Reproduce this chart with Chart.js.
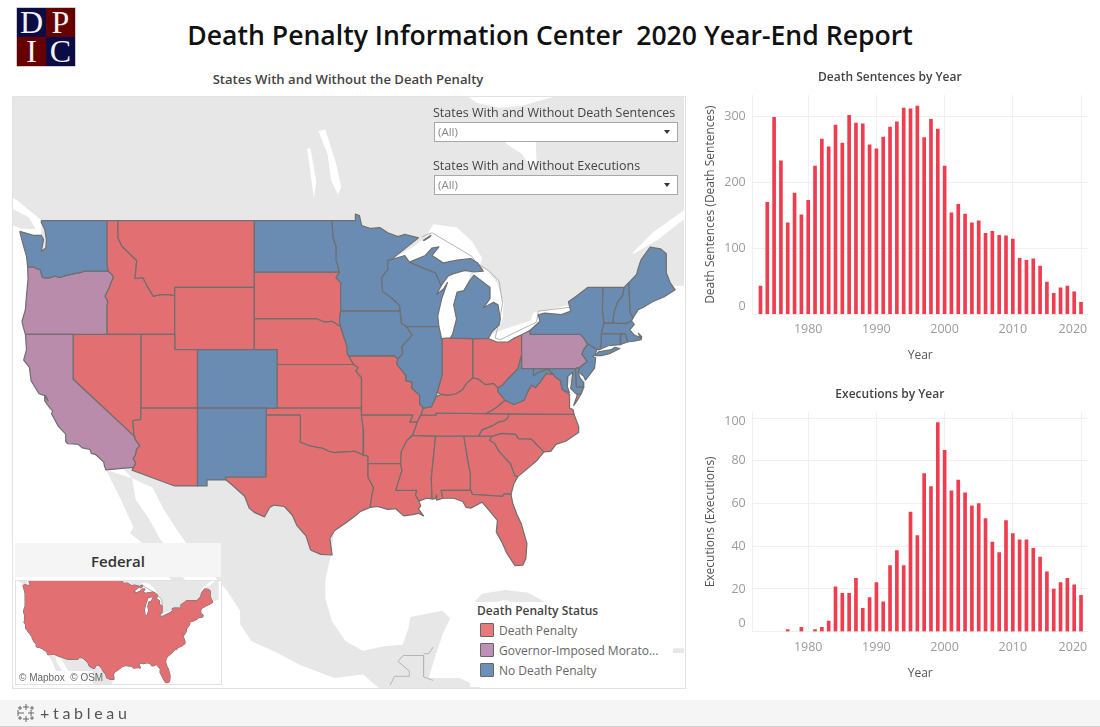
<!DOCTYPE html>
<html><head><meta charset="utf-8">
<script src="https://cdn.jsdelivr.net/npm/chart.js@4"></script>
<style>
html,body{margin:0;padding:0;background:#fff;width:1100px;height:727px;overflow:hidden;font-family:"Open Sans",sans-serif}
.a{position:absolute}
canvas{position:absolute;display:block}
.lbl{position:absolute;white-space:nowrap}
.box{position:absolute;background:#fff;border:1px solid #a8a8a8;box-sizing:border-box;color:#888;font-size:11.5px;line-height:17px;padding-left:3px}
.box i{position:absolute;right:7px;top:7px;width:0;height:0;border-left:3.5px solid transparent;border-right:3.5px solid transparent;border-top:4px solid #333}
.sw{position:absolute;left:480px;width:14px;height:14px;box-sizing:border-box;border:1px solid #666;border-radius:1px}
</style></head><body>
<div class="a" style="left:17px;top:8px;width:58px;height:58px;display:grid;grid-template-columns:1fr 1fr;grid-template-rows:1fr 1fr;font-family:'Liberation Serif',serif;color:#f2f2f2;font-size:32px;line-height:29px;text-align:center;box-shadow:0 0 0 .5px #999">
<div style="background:#0b0b45">D</div><div style="background:#660000">P</div><div style="background:#660000">I</div><div style="background:#0b0b45">C</div></div>
<div class="lbl" id="mainTitle" style="left:0;width:1100px;text-align:center;top:17px;font-size:26.6px;font-weight:600;color:#111;line-height:36px">Death Penalty Information Center&nbsp; 2020 Year-End Report</div>
<div class="lbl" style="left:148px;width:400px;text-align:center;top:71px;font-size:13.1px;font-weight:600;color:#444;line-height:17px">States With and Without the Death Penalty</div>
<div class="a" style="left:12px;top:96px;width:672px;height:591px;border:1px solid #e2e2e2;box-sizing:content-box"></div>
<canvas id="mapChart" width="671" height="591" style="left:13px;top:97px;width:671px;height:591px"></canvas>

<div class="lbl" style="left:433px;top:104px;font-size:12.5px;color:#444;line-height:17px">States With and Without Death Sentences</div>
<div class="box" style="left:434px;top:122px;width:244px;height:20px">(All)<i></i></div>
<div class="lbl" style="left:433px;top:157px;font-size:12.5px;color:#444;line-height:17px">States With and Without Executions</div>
<div class="box" style="left:434px;top:175px;width:244px;height:20px">(All)<i></i></div>

<div class="a" style="left:470px;top:602px;width:195px;height:85px;background:#fff"></div>
<div class="lbl" style="left:477px;top:602px;font-size:12px;font-weight:600;color:#444;line-height:17px">Death Penalty Status</div>
<div class="sw" style="top:623px;background:#e87a7d"></div>
<div class="lbl" style="left:499px;top:622px;font-size:12px;color:#666;line-height:17px">Death Penalty</div>
<div class="sw" style="top:643px;background:#be91b4"></div>
<div class="lbl" style="left:499px;top:642px;font-size:12px;color:#666;line-height:17px">Governor-Imposed Morato...</div>
<div class="sw" style="top:663px;background:#6b91b9"></div>
<div class="lbl" style="left:499px;top:662px;font-size:12px;color:#666;line-height:17px">No Death Penalty</div>

<div class="a" style="left:15px;top:543px;width:206px;height:34px;background:#f5f5f5;text-align:center;font-size:15px;font-weight:600;color:#333;line-height:36px">Federal</div>
<div class="a" style="left:15px;top:580px;width:207px;height:105px;border:1px solid #e2e2e2;box-sizing:border-box;background:#fff"></div>
<canvas id="insetChart" width="205" height="103" style="left:16px;top:581px;width:205px;height:103px"></canvas>
<div class="lbl" style="left:16px;top:671px;height:13px;width:74px;padding-left:3px;background:rgba(255,255,255,.85);font-size:10px;line-height:13px;color:#666;font-family:'Liberation Sans',sans-serif">© Mapbox&nbsp; © OSM</div>

<canvas id="sentencesChart" width="398" height="300" style="left:692px;top:65px;width:398px;height:300px"></canvas>
<canvas id="executionsChart" width="398" height="300" style="left:692px;top:383px;width:398px;height:300px"></canvas>

<div class="a" style="left:0;top:700px;width:1100px;height:26px;background:#f5f5f5;border-bottom:1px solid #d0d0d0"></div>
<svg class="a" style="left:16px;top:703px" width="20" height="20" stroke="#666" stroke-width="1" fill="none"><path d="M10 1v6M7 4h6M10 13v6M7 16h6M2 10h6M2 7v6M12 10h6M15 7v6M4 3v4M2 5h4M16 3v4M14 5h4M4 13v4M2 15h4M16 13v4M14 15h4"/></svg>
<div class="lbl" style="left:40px;top:702px;font-size:16px;line-height:22px;color:#555;letter-spacing:3.7px;font-family:Lato,sans-serif">+tableau</div>

<script>
// ---------- bar chart data ----------
const years = [1973,1974,1975,1976,1977,1978,1979,1980,1981,1982,1983,1984,1985,1986,1987,1988,1989,1990,1991,1992,1993,1994,1995,1996,1997,1998,1999,2000,2001,2002,2003,2004,2005,2006,2007,2008,2009,2010,2011,2012,2013,2014,2015,2016,2017,2018,2019,2020];
const deathSentences = [43,170,299,233,139,184,151,173,225,266,254,287,260,302,290,289,257,251,269,284,292,313,312,316,268,296,281,225,154,167,152,139,142,123,126,120,119,114,85,82,84,73,49,32,40,43,34,18];
const executions = [null,null,null,null,1,null,2,null,1,2,5,21,18,18,25,11,16,23,14,31,38,31,56,45,74,68,98,85,66,71,65,59,60,53,42,37,52,46,43,43,39,35,28,20,23,25,22,17];

// ---------- geography: [lon,lat, lon,lat, ...] ----------
const WA=[[-124.7,48.38,-124.4,47.6,-124.1,46.9,-124,46.25,-123.5,46.27,-123.2,46.15,-122.9,46.1,-122.8,45.85,-122.7,45.62,-122.2,45.57,-121.6,45.7,-121.15,45.61,-120.6,45.74,-119.9,45.85,-119.3,45.93,-119,46,-116.92,46,-117.03,46.4,-117.03,49,-122.75,49,-122.8,48.9,-122.5,48.5,-122.35,47.9,-122.4,47.4,-122.8,47.2,-122.6,47.9,-122.8,48.15,-123.5,48.15]];
const OR=[[-124,46.25,-123.5,46.27,-123.2,46.15,-122.9,46.1,-122.8,45.85,-122.7,45.62,-122.2,45.57,-121.6,45.7,-121.15,45.61,-120.6,45.74,-119.9,45.85,-119.3,45.93,-119,46,-116.92,46,-116.55,45.75,-116.46,45.6,-116.67,45.3,-116.85,44.95,-117.2,44.45,-117.03,44.23,-116.95,44.1,-117.03,43.8,-117.03,42,-124.2,42,-124.4,42.5,-124.5,42.85,-124.2,43.6,-124.1,44.5,-123.97,45.5]];
const CA=[[-124.2,42,-120,42,-120,39,-114.63,35,-114.57,34.8,-114.14,34.3,-114.43,34.05,-114.52,33.6,-114.72,33.4,-114.5,33,-114.72,32.72,-117.12,32.53,-117.25,32.85,-117.3,33.1,-118,33.65,-118.4,33.75,-118.5,34.03,-119.2,34.15,-119.6,34.42,-120.47,34.45,-120.65,34.6,-120.65,35.15,-121.3,35.7,-121.9,36.6,-121.8,36.8,-122,36.96,-122.5,37.5,-122.5,37.8,-122.2,37.5,-122.4,37.85,-123,38,-123.7,38.9,-123.85,39.8,-124.35,40.3,-124.1,41]];
const NV=[[-120,42,-114.04,42,-114.04,36.2,-114.75,36.1,-114.63,35,-120,39]];
const ID=[[-117.03,49,-116.05,49,-116.05,48,-115.7,47.5,-114.4,46.65,-114.55,45.55,-113.85,45.6,-113.45,45.05,-112.95,44.45,-112.3,44.55,-111.5,44.55,-111.05,44.47,-111.05,42,-117.03,42,-117.03,43.8,-116.95,44.1,-117.03,44.23,-117.2,44.45,-116.85,44.95,-116.67,45.3,-116.46,45.6,-116.55,45.75,-116.92,46,-117.03,46.4]];
const MT=[[-116.05,49,-104.05,49,-104.05,45,-111.05,45,-111.05,44.47,-111.5,44.55,-112.3,44.55,-112.95,44.45,-113.45,45.05,-113.85,45.6,-114.55,45.55,-114.4,46.65,-115.7,47.5,-116.05,48]];
const WY=[[-111.05,45,-104.05,45,-104.05,41,-111.05,41]];
const UT=[[-114.04,42,-111.05,42,-111.05,41,-109.05,41,-109.05,37,-114.04,37]];
const CO=[[-109.05,41,-102.05,41,-102.05,37,-109.05,37]];
const AZ=[[-114.04,37,-109.05,37,-109.05,31.33,-111.07,31.33,-114.81,32.5,-114.72,32.72,-114.5,33,-114.72,33.4,-114.52,33.6,-114.43,34.05,-114.14,34.3,-114.57,34.8,-114.63,35,-114.75,36.1,-114.04,36.2]];
const NM=[[-109.05,37,-103,37,-103.04,32,-106.62,32,-106.53,31.78,-108.21,31.78,-108.21,31.33,-109.05,31.33]];
const ND=[[-104.05,49,-97.23,49,-97.1,48,-96.85,47.5,-96.8,46.6,-96.56,45.94,-104.05,45.94]];
const SD=[[-104.05,45.94,-96.56,45.94,-96.85,45.6,-96.45,45.3,-96.45,43.5,-96.55,43,-96.45,42.5,-97.2,42.85,-97.9,42.8,-98.5,43,-104.05,43]];
const NE=[[-104.05,43,-98.5,43,-97.9,42.8,-97.2,42.85,-96.45,42.5,-96.1,41.7,-95.9,41.2,-95.85,40.7,-95.75,40.58,-95.3,40,-102.05,40,-102.05,41,-104.05,41]];
const KS=[[-102.05,40,-95.3,40,-94.9,39.8,-95.1,39.55,-94.6,39.1,-94.62,37,-102.05,37]];
const OK=[[-103,37,-94.62,37,-94.62,36.5,-94.43,35.4,-94.48,33.64,-95.2,33.9,-96,33.85,-97,33.8,-97.5,33.9,-98.1,34.13,-99.2,34.3,-100,34.56,-100,36.5,-103,36.5]];
const TX=[[-103,36.5,-100,36.5,-100,34.56,-99.2,34.3,-98.1,34.13,-97.5,33.9,-97,33.8,-96,33.85,-95.2,33.9,-94.48,33.64,-94.04,33.55,-94.04,33,-94.04,32,-93.55,31.2,-93.7,30.6,-93.85,29.7,-94.7,29.4,-95.1,29.1,-96,28.5,-97,27.9,-97.4,27.3,-97.2,26,-98.2,26.05,-99.1,26.4,-99.5,27.5,-100.3,28.3,-100.7,29.1,-101.4,29.77,-102.3,29.88,-102.7,29.7,-103.15,28.98,-104,29.3,-104.5,29.65,-104.9,30.55,-106,31.4,-106.53,31.78,-106.62,32,-103.04,32]];
const MN=[[-97.23,49,-95.15,49,-95.15,49.38,-94.8,49.3,-94.6,48.72,-93.8,48.55,-93,48.6,-92.3,48.3,-91.4,48.07,-90.8,48.2,-89.6,48,-90.9,47.3,-92,46.7,-92.3,46.65,-92.3,46.1,-92.85,45.6,-92.75,44.75,-91.9,44.3,-91.25,43.85,-91.22,43.5,-96.45,43.5,-96.45,45.3,-96.85,45.6,-96.56,45.94,-96.8,46.6,-96.85,47.5,-97.1,48]];
const IA=[[-96.45,43.5,-91.22,43.5,-91.1,42.7,-90.65,42.5,-90.15,41.95,-91.05,41.2,-91,40.7,-91.42,40.38,-91.75,40.6,-95.75,40.58,-95.85,40.7,-95.9,41.2,-96.1,41.7,-96.45,42.5,-96.55,43]];
const MO=[[-95.75,40.58,-91.75,40.6,-91.42,40.38,-91.5,40,-90.75,39.3,-90.7,38.9,-90.15,38.8,-90.2,38.4,-89.5,37.9,-89.5,37.3,-89.15,37,-89.4,36.5,-89.7,36,-90.37,36,-90.1,36.5,-94.62,36.5,-94.62,37,-94.6,39.1,-95.1,39.55,-94.9,39.8,-95.3,40]];
const AR=[[-94.62,36.5,-90.1,36.5,-90.37,36,-89.7,36,-90.1,35.1,-90.6,34.7,-91.1,33.9,-91.17,33,-94.04,33,-94.04,33.55,-94.48,33.64,-94.43,35.4]];
const LA=[[-94.04,33,-91.17,33,-91.05,32.5,-91.6,31,-89.75,31,-89.85,30.65,-89.55,30.18,-89.4,29.8,-89.6,29.6,-89.15,29.05,-89.6,29.25,-90.1,29.15,-90.9,29.05,-91.6,29.6,-92.3,29.55,-93.2,29.77,-93.85,29.7,-93.7,30.6,-93.55,31.2,-94.04,32]];
const MS=[[-90.1,35.05,-88.2,35,-88.1,34.9,-88.47,31.9,-88.4,30.35,-88.9,30.4,-89.55,30.18,-89.85,30.65,-89.75,31,-91.6,31,-91.05,32.5,-91.17,33,-91.1,33.9,-90.6,34.7]];
const AL=[[-88.2,35,-85.6,35,-85.18,32.87,-85,32.3,-85.05,31.55,-85,31,-87.6,31,-87.45,30.4,-88,30.25,-88,30.65,-88.15,30.35,-88.4,30.35,-88.47,31.9,-88.1,34.9]];
const GA=[[-85.6,35,-83.1,35,-83.35,34.7,-82.9,34.48,-82.55,33.95,-81.9,33.35,-81.5,33,-81.1,32.1,-80.85,32.03,-81.2,31.5,-81.45,30.7,-82.05,30.75,-82.2,30.55,-84.86,30.7,-85,31,-85.05,31.55,-85,32.3,-85.18,32.87]];
const FL=[[-87.6,31,-85,31,-84.86,30.7,-82.2,30.55,-82.05,30.75,-81.45,30.7,-81.3,30,-80.95,29.2,-80.55,28.45,-80.05,26.9,-80.15,25.7,-80.4,25.2,-81.1,25.15,-81.8,26.1,-82.2,26.9,-82.75,27.8,-82.65,28.7,-83.4,29.5,-84,30.1,-85,29.65,-85.4,29.7,-85.7,30.15,-86.5,30.4,-87.45,30.4]];
const SC=[[-83.1,35,-82.3,35.2,-81.05,35.15,-80.8,34.82,-79.67,34.8,-78.55,33.86,-79.2,33.2,-79.9,32.7,-80.85,32.03,-81.1,32.1,-81.5,33,-81.9,33.35,-82.55,33.95,-82.9,34.48,-83.35,34.7]];
const NC=[[-84.32,35,-83.1,35,-82.3,35.2,-81.05,35.15,-80.8,34.82,-79.67,34.8,-78.55,33.86,-77.95,33.9,-77.5,34.4,-76.6,34.65,-75.55,35.25,-75.5,35.7,-75.9,36.55,-81.68,36.59,-81.7,36.35,-82,36.12,-82.6,36,-83.1,35.75,-84,35.45]];
const TN=[[-90.1,35.05,-88.2,35,-85.6,35,-84.32,35,-84,35.45,-83.1,35.75,-82.6,36,-82,36.12,-81.7,36.35,-81.68,36.59,-83.67,36.6,-88.07,36.65,-88.05,36.5,-89.4,36.5,-89.7,36]];
const KY=[[-89.4,36.5,-88.05,36.5,-88.07,36.65,-83.67,36.6,-83.1,36.85,-82.7,37.05,-81.97,37.54,-82.6,38.17,-82.6,38.4,-83,38.72,-83.7,38.63,-84.3,39,-84.82,39.1,-85.4,38.7,-85.7,38.3,-86.3,38,-87,37.9,-87.6,37.95,-88.05,37.8,-88.45,37.1,-89.15,37]];
const VA=[[-83.67,36.6,-81.68,36.59,-75.9,36.55,-76,36.9,-76.3,37,-76.3,37.6,-76.3,37.95,-76.95,38.3,-77.05,38.7,-77.05,38.9,-77.5,39.1,-77.72,39.32,-78.35,39.4,-78.9,38.8,-79.3,38.42,-79.65,38.6,-79.95,38.2,-80.3,37.55,-81.2,37.25,-81.97,37.54,-82.7,37.05,-83.1,36.85],[-75.95,37.15,-75.6,37.95,-75.25,38.03,-75.65,37.5]];
const WV=[[-81.97,37.54,-81.2,37.25,-80.3,37.55,-79.95,38.2,-79.65,38.6,-79.3,38.42,-78.9,38.8,-78.35,39.4,-77.72,39.32,-78.2,39.68,-79.05,39.47,-79.48,39.21,-79.48,39.72,-80.52,39.72,-80.52,40.64,-80.85,39.7,-81.75,39,-82.2,38.6,-82.6,38.4,-82.6,38.17]];
const OH=[[-84.8,41.72,-83.45,41.73,-82.7,41.5,-81.7,41.5,-81.2,41.75,-80.52,41.98,-80.52,40.64,-80.85,39.7,-81.75,39,-82.2,38.6,-82.6,38.4,-83,38.72,-83.7,38.63,-84.3,39,-84.82,39.1]];
const IN=[[-87.53,41.72,-87.2,41.75,-86.8,41.76,-84.8,41.72,-84.82,39.1,-85.4,38.7,-85.7,38.3,-86.3,38,-87,37.9,-87.6,37.95,-87.95,38.1,-87.5,39.35]];
const IL=[[-87.8,42.5,-90.65,42.5,-90.15,41.95,-91.05,41.2,-91,40.7,-91.42,40.38,-91.5,40,-90.75,39.3,-90.7,38.9,-90.15,38.8,-90.2,38.4,-89.5,37.9,-89.5,37.3,-89.15,37,-88.45,37.1,-88.05,37.8,-87.95,38.1,-87.5,39.35,-87.53,41.72,-87.6,41.85]];
const WI=[[-92,46.7,-90.8,46.95,-90.4,46.55,-89,46.15,-88.1,45.9,-87.6,45.1,-88,44.55,-87.4,44.9,-87.05,45.3,-87.55,44.3,-87.9,43.2,-87.8,42.5,-90.65,42.5,-91.1,42.7,-91.22,43.5,-91.25,43.85,-91.9,44.3,-92.75,44.75,-92.85,45.6,-92.3,46.1,-92.3,46.65]];
const MI=[[-90.4,46.55,-89,46.95,-88.4,47.4,-87.8,47.47,-88.4,46.95,-87.4,46.5,-86.2,46.67,-85,46.77,-84.4,46.5,-84.1,46.2,-83.9,46,-84.7,45.95,-85.5,46.05,-86.5,45.85,-87,45.7,-87.6,45.1,-88.1,45.9,-89,46.15],[-86.8,41.76,-84.8,41.72,-83.45,41.73,-83.1,42.2,-82.5,42.6,-82.4,43,-82.6,43.9,-83,44.07,-83.9,43.7,-83.3,44.3,-83.3,45,-84.7,45.75,-85.1,45.4,-85.6,44.8,-86.2,44.7,-86.5,43.9,-86.25,43,-86.6,42],[-89.2,47.85,-88.5,48.15,-88.6,48.05,-89.1,47.85]];
const NY=[[-79.76,42.27,-79.76,42,-75.35,42,-75.05,41.75,-74.7,41.36,-73.9,41,-73.65,41,-73.5,41.3,-73.5,42.05,-73.27,42.75,-73.4,43.6,-73.35,45,-74.7,45,-75.8,44.4,-76.4,44.1,-76.2,43.5,-77,43.28,-78.5,43.37,-79.05,43.27,-78.9,42.85],[-74.05,40.6,-73.75,40.85,-72.6,41,-72.3,41.15,-71.87,41.07,-72.7,40.75,-73.5,40.6]];
const NJ=[[-74.7,41.36,-73.9,41,-74.05,40.65,-74.25,40.5,-74,40.45,-74.1,39.75,-74.9,38.93,-75.05,39.2,-75.55,39.5,-75.4,39.8,-74.75,40.2,-75.2,40.7,-75.05,41]];
const PA=[[-80.52,41.98,-79.76,42.27,-79.76,42,-75.35,42,-75.05,41.75,-74.7,41.36,-75.05,41,-75.2,40.7,-74.75,40.2,-75.4,39.8,-75.79,39.72,-80.52,39.72]];
const MD=[[-79.48,39.72,-75.79,39.72,-75.7,38.46,-75.05,38.45,-75.25,38.03,-75.65,37.95,-76.2,38.35,-76,39.5,-76.45,39.2,-76.5,38.5,-76.3,38.05,-76.95,38.3,-77.05,38.7,-77.05,38.9,-77.5,39.1,-77.72,39.32,-78.2,39.68,-79.05,39.47,-79.48,39.21]];
const DE=[[-75.79,39.72,-75.4,39.8,-75.55,39.5,-75.4,39.1,-75.1,38.8,-75.05,38.45,-75.7,38.46]];
const CT=[[-73.5,42.05,-71.8,42.02,-71.85,41.32,-72.9,41.25,-73.65,41,-73.5,41.3]];
const RI=[[-71.8,42.02,-71.38,42.02,-71.2,41.5,-71.85,41.32]];
const MA=[[-73.5,42.05,-73.27,42.75,-71.3,42.7,-70.85,42.87,-70.6,42.65,-71,42.3,-70.6,41.95,-70.05,41.78,-70.25,42.07,-69.95,41.85,-70,41.65,-70.65,41.55,-71.2,41.5,-71.38,42.02,-71.8,42.02]];
const VT=[[-73.35,45,-71.5,45,-71.6,44.5,-72.05,44.1,-72.35,43.5,-72.45,43,-72.46,42.73,-73.27,42.75,-73.4,43.6]];
const NH=[[-71.5,45,-71.08,45.3,-70.97,43.4,-70.7,43.08,-70.85,42.87,-71.3,42.7,-72.46,42.73,-72.45,43,-72.35,43.5,-72.05,44.1,-71.6,44.5]];
const ME=[[-71.08,45.3,-70.4,45.8,-70.25,46.2,-70,46.7,-69.2,47.45,-68.3,47.35,-67.8,47.07,-67.78,45.9,-67.45,45.3,-67,44.85,-68,44.4,-69,44.1,-69.8,43.75,-70.25,43.6,-70.7,43.08,-70.97,43.4]];

const deathPenaltyStates = [ID,MT,WY,SD,NE,UT,NV,AZ,KS,OK,TX,MO,AR,LA,MS,AL,GA,FL,SC,NC,TN,KY,VA,IN,OH];
const moratoriumStates = [OR,CA,PA];
const noDeathPenaltyStates = [WA,ND,MN,WI,MI,IA,IL,CO,NM,NY,VT,NH,ME,MA,RI,CT,NJ,DE,MD,WV];

// grey land (Canada, Mexico, Central America, islands)
const landAreas = [
 [-126,70,-65,70,-65,45.3,-66,45.1,-67.2,45.1,-70,44.5,-74,41.5,-80,34,-84,31,-90,31,-94,30,-97,28,-97.3,26,-97.8,24,-97.8,22.5,-97.2,20.6,-96,19,-94.5,18.2,-92.5,18.6,-91,18.7,-90.5,20,-90.3,21,-87.5,21.5,-86.8,20.9,-87.5,19.5,-88.2,17.5,-88.7,15.9,-86,15.9,-84,15,-92,14.5,-93,15,-94.5,16.2,-97,15.9,-100,17,-102,18,-104.3,19,-105.3,20.4,-105.3,21.5,-106.5,23.2,-109,25.7,-110.5,27.5,-112,29.5,-113,31.2,-114.8,31.9,-116,33,-120.5,38,-123,44,-123,46.5,-122.75,49,-123.3,49.3,-124.8,50.1,-126,50.6],
 [-117.1,32.53,-116.5,31.5,-115.8,30.3,-114.7,28.2,-115,27.7,-114,27,-112.3,25.5,-112,24.6,-110.2,23,-109.5,23.1,-110.3,24.2,-111.3,26,-112.3,27.2,-113.3,28.8,-114.5,30.3,-114.8,31.9],
 [-126,49.9,-123.9,49.2,-123.3,48.5,-124.6,48.55,-126,48.9],
 [-85,21.9,-84,22.9,-82,23.2,-80,23,-77,21.5,-74.3,20.2,-77,19.9,-78,20.8,-80,21.8,-82,22.4,-84,21.9],
 [-67.2,18.4,-65.7,18.4,-65.7,18,-67.2,18]
];
// white water inside the grey land
const waterAreas = [
 [-92.1,46.7,-90.2,47.4,-89,48,-88.3,48.8,-86.2,48.6,-84.9,47.8,-84,46.8,-84.2,46.3,-85,46.6,-87,46.4,-88.5,46.8,-90.5,46.6],
 [-87.9,41.6,-86.5,41.6,-85,45.9,-86,46,-88,45.2,-88,43],
 [-85,46.2,-83.6,46.1,-82.7,45.3,-82.1,44,-82.2,43,-82.6,42.3,-83.5,42.3,-84.5,45.5],
 [-83.4,41.6,-83.2,42,-82.4,42.25,-79.7,42.9,-79.5,43.4,-76.3,43.9,-75.9,44.4,-76,43,-79,42.3,-82,41.3],
 [-70.6,47.2,-69,48.3,-66,49.7,-66,49.2,-68.5,47.9,-70.8,47],
 [-98.4,53.9,-97.8,54,-96.9,52.3,-96.4,50.9,-96.7,50.5,-97.3,51.3,-97.6,52.7],
 [-99.4,53,-99.1,53,-98.6,51.2,-98.8,50.3,-99,51.2],
 [-86,57,-86,56,-84.5,55.35,-82.5,55.1,-80.5,55.2,-78,55.6,-75,56,-75,57],
 [-82,53.3,-80.5,52.7,-79.5,51.8,-79.2,52.3,-79.3,53.6,-80,54,-81,53.6]
];
// thin boundary lines printed on the base map
const borderLines = [
 [-89.3,48.06,-88.4,48.3,-84.9,46.9,-84.5,46.5,-83.45,46.05,-82.5,45.4,-82.2,44,-82.4,43.15,-82.85,41.75,-82.4,41.65,-79.2,42.8,-79.05,43.5,-76.25,43.75,-76.2,44.1,-74.7,45],
 [-92.1,15.3,-91.7,16.05,-90.4,16.05,-90.4,16.5,-91.4,17.3,-90.95,17.8,-89.15,17.8,-89.15,16,-88.3,15.7],
 [-89.15,17.95,-88.7,17.95,-88.3,18.5]
];

// ---------- projection of latitude onto the chart's y axis ----------
const mercator = lat => Math.log(Math.tan(Math.PI/4 + lat*Math.PI/360))*180/Math.PI;
const toPoints = (flat, close=true) => {
  const pts=[]; for(let i=0;i<flat.length;i+=2) pts.push({x:flat[i],y:mercator(flat[i+1])});
  if(close) pts.push(pts[0]); return pts;
};
const area = (flat,fill,stroke,width) => ({data:toPoints(flat),showLine:true,pointRadius:0,tension:0,fill:'shape',backgroundColor:fill,borderColor:stroke||fill,borderWidth:width||0,borderJoinStyle:'round'});
const line = (flat,stroke,width) => ({data:toPoints(flat,false),showLine:true,pointRadius:0,tension:0,fill:false,borderColor:stroke,borderWidth:width});

const colDeath='#e27072', colMor='#b88caa', colNo='#6a8cb2', colEdge='#6f6f6f';
const baseLayers = () => [
  ...landAreas.map(p=>area(p,'#e7e7e7')),
  ...waterAreas.map(p=>area(p,'#ffffff')),
  ...borderLines.map(p=>line(p,'#b5b5b5',1))
];
const statusLayers = (list,col) => list.flatMap(st=>st.map(p=>area(p,col,colEdge,1.2)));
const mapOpts = (x0,x1,y0,y1) => ({responsive:false,animation:false,events:[],layout:{padding:0},
  plugins:{legend:{display:false},tooltip:{enabled:false},title:{display:false}},
  scales:{x:{type:'linear',display:false,min:x0,max:x1},y:{type:'linear',display:false,min:y0,max:y1}}});

// Chart.js paints the first dataset last, so layers are reversed
new Chart(document.getElementById('mapChart'),{type:'scatter',
  data:{datasets:[...baseLayers(),...statusLayers(deathPenaltyStates,colDeath),...statusLayers(moratoriumStates,colMor),...statusLayers(noDeathPenaltyStates,colNo)].reverse()},
  options:mapOpts(-125.291,-66.225,15.233,67.257)});

const allStates=[...deathPenaltyStates,...moratoriumStates,...noDeathPenaltyStates];
new Chart(document.getElementById('insetChart'),{type:'scatter',
  data:{datasets:[...baseLayers(),
    ...allStates.flatMap(st=>st.map(p=>area(p,colDeath,colEdge,2.4))),
    ...allStates.flatMap(st=>st.map(p=>area(p,colDeath,colDeath,1.4)))].reverse()},
  options:mapOpts(-127.0,-64.3,25.4,56.6)});

// ---------- bar charts ----------
const gridCol='#f0f0f0', tickCol='#9b9b9b', textCol='#555';
function barChart(id,title,yTitle,values,yMax,yStep,plotW,xH,titlePad,yShift){
  new Chart(document.getElementById(id),{type:'bar',
    data:{datasets:[{data:years.map((x,i)=>({x,y:values[i]})),backgroundColor:'#f03c4f',barThickness:3}]},
    options:{responsive:false,animation:false,events:[],layout:{padding:{left:0,right:2.3,top:0,bottom:0}},
      plugins:{legend:{display:false},tooltip:{enabled:false},
        title:{display:true,text:title,color:'#444',font:{family:'Open Sans',size:12,weight:'600'},padding:titlePad}},
      scales:{
        x:{type:'linear',offset:false,min:1971.86,max:2020.98,
           grid:{color:gridCol,drawTicks:false,offset:false},border:{color:gridCol},
           afterFit:s=>{s.height=xH;s.paddingLeft=0;s.paddingRight=0},
           title:{display:true,text:'Year',color:textCol,font:{family:'Open Sans',size:12},padding:{top:0,bottom:2}},
           ticks:{stepSize:10,includeBounds:false,autoSkip:false,maxRotation:0,padding:8,color:tickCol,font:{family:'Open Sans',size:12.5},
             callback:v=>v===2020?'2020     ':String(v)}},
        y:{min:0,max:yMax,
           grid:{color:gridCol,drawTicks:false},border:{color:gridCol},
           afterFit:s=>{s.width=plotW;s.paddingTop=0;s.paddingBottom=0},
           title:{display:true,text:yTitle,color:textCol,font:{family:'Open Sans',size:12},padding:{top:11.5,bottom:0}},
           ticks:{stepSize:yStep,includeBounds:false,padding:7,color:tickCol,
             font:c=>({family:'Open Sans',size:12.5,lineHeight:(c.tick&&yShift[c.tick.value])?(Math.abs(yShift[c.tick.value])*2)+'px':'15px'}),
             callback:v=>yShift[v]?(yShift[v]<0?[String(v),'']:['',String(v)]):String(v)}}
      }}});
}
barChart('sentencesChart','Death Sentences by Year','Death Sentences (Death Sentences)',deathSentences,332.8,100,60.7,50.7,{top:5.5,bottom:10.1},{0:-8});
barChart('executionsChart','Executions by Year','Executions (Executions)',executions,102.9,20,60.7,51.3,{top:4.8,bottom:9.8},{0:-8.7,100:3});
</script>
</body></html>
